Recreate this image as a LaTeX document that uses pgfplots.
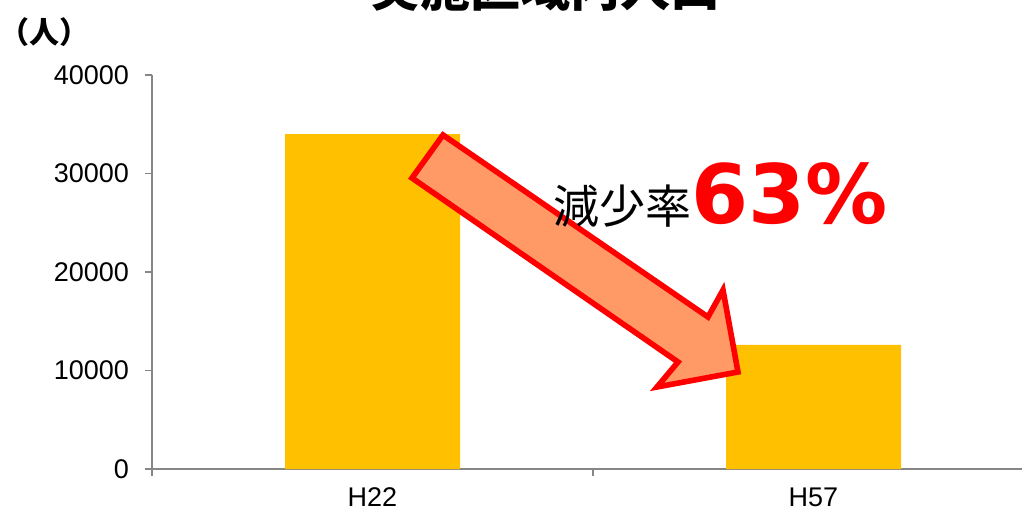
\documentclass[border=0pt]{standalone}
\usepackage{pgfplots}
\pgfplotsset{compat=1.18}
\usepackage{fontspec}
\setmainfont{Liberation Sans}
\newfontfamily\cjk{Noto Sans CJK JP}
\newfontfamily\dvs{DejaVu Sans}
\definecolor{barc}{HTML}{FFC000}
\definecolor{axc}{HTML}{868686}
\definecolor{arrowfill}{HTML}{FF9966}

\begin{document}
\begin{tikzpicture}
  \begin{axis}[
    at={(76pt,22.5pt)}, anchor=south west,
    scale only axis, width=441pt, height=197pt,
    xmin=-0.5, xmax=1.5, ymin=0, ymax=40000,
    axis x line*=bottom, axis y line*=left,
    axis line style={axc, line width=0.8pt},
    ybar, bar width=87.5pt,
    xtick={-0.5,0.5,1.5}, xticklabels={},
    extra x ticks={0,1}, extra x tick labels={H22,H57},
    extra x tick style={major tick length=0pt, xticklabel style={yshift=-6pt}},
    ytick={0,10000,20000,30000,40000},
    scaled y ticks=false,
    yticklabel style={xshift=-4.5pt, /pgf/number format/fixed, /pgf/number format/1000 sep={}},
    /pgf/number format/assume math mode=true,
    tick align=outside,
    major tick length=3.5pt,
    tick style={axc, line width=0.8pt},
    ticklabel style={font=\fontsize{13.5}{16}\selectfont},
  ]
    % 人口（人）
    \addplot[fill=barc, draw=none] coordinates {(0,34000) (1,12600)};
  \end{axis}

  % pixel-like coordinates for the annotations
  \begin{scope}[x=0.5pt, y=-0.5pt, shift={(0pt,257pt)}]
    \node[anchor=base, font=\cjk\bfseries\fontsize{25}{30}\selectfont] at (545,7) {実施区域内人口};
    \node[anchor=center, inner sep=0pt, font=\cjk\bfseries\fontsize{15}{18}\selectfont] at (44,32) {（人）};
    \draw[red, line width=2.8pt, fill=arrowfill, line join=miter]
      (443,135) -- (412,178) -- (678,362) -- (657,387) -- (738,372) -- (723,290) -- (708,317) -- cycle;
    \node[anchor=base west, inner sep=0pt] at (553,224)
      {{\cjk\fontsize{23}{28}\selectfont 減少率}{\dvs\bfseries\fontsize{41}{48}\selectfont\color{red}63\%}};
  \end{scope}

  \pgfresetboundingbox
  \useasboundingbox (0,0) rectangle (511pt,257pt);
\end{tikzpicture}
\end{document}
